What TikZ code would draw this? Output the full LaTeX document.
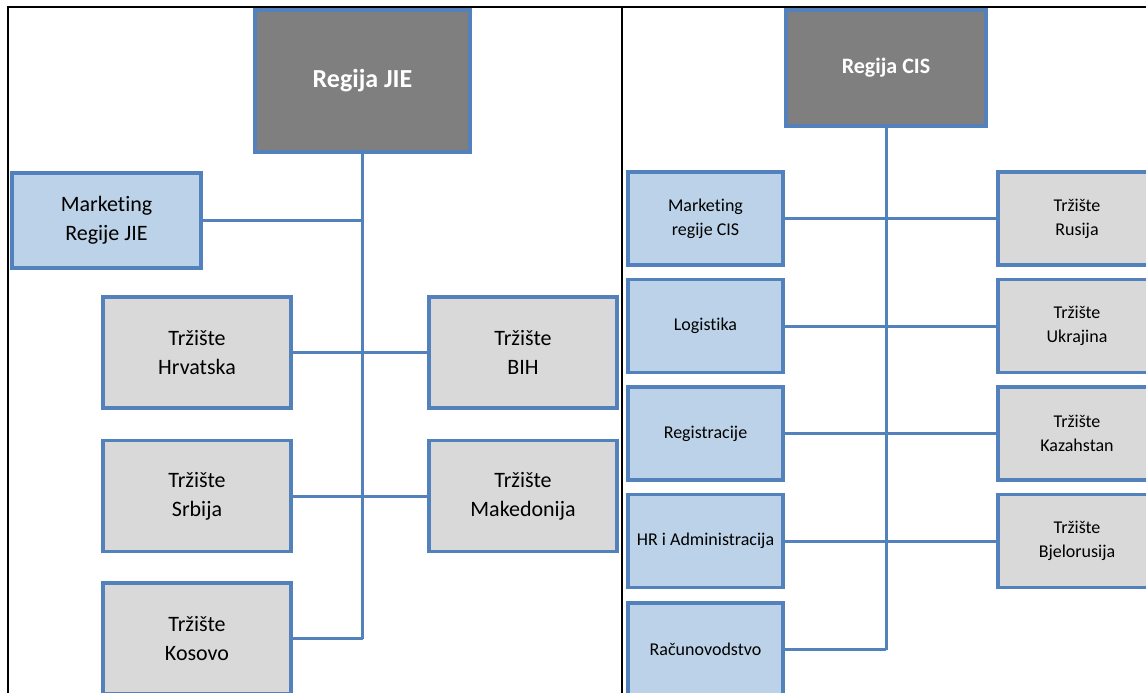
\documentclass[tikz,border=0pt]{standalone}
\usepackage{fontspec}
\setmainfont{Carlito}[Ligatures={NoCommon}]
\definecolor{rub}{HTML}{5281BC}
\definecolor{tamna}{HTML}{7F7F7F}
\definecolor{plava}{HTML}{BCD2E8}
\definecolor{siva}{HTML}{D9D9D9}
\begin{document}
\begin{tikzpicture}[x=1pt,y=-1pt,
		regija/.style={draw=rub,line width=3.2pt,fill=tamna,text=white,font=\fontsize{22}{26}\selectfont\bfseries},
		odjel/.style={draw=rub,line width=3.2pt,fill=plava,align=center},
		trziste/.style={draw=rub,line width=3.2pt,fill=siva,align=center},
		veza/.style={draw=rub,line width=3pt}]
		\useasboundingbox (0,0) rectangle (1146,693);
		\draw[line width=1.8pt] (8,693) -- (8,7) -- (1146,7);
		\draw[line width=1.8pt] (622,7) -- (622,693);
		
		% Regija JIE
		\begin{scope}[every node/.append style={font=\fontsize{22}{29}\selectfont,minimum width=188pt,minimum height=111pt}]
			\node[regija,minimum width=215pt,minimum height=142pt,font=\fontsize{26}{30}\selectfont\bfseries] (jie) at (362.5,81) {Regija JIE};
			\node[odjel,minimum width=189pt,minimum height=95pt] (mktjie) at (106.5,220.5) {Marketing\\Regije JIE};
			\node[trziste] (hrv) at (197,352.5) {Tržište\\Hrvatska};
			\node[trziste] (bih) at (523,352.5) {Tržište\\BIH};
			\node[trziste] (srb) at (197,496) {Tržište\\Srbija};
			\node[trziste] (mak) at (523,496) {Tržište\\Makedonija};
			\node[trziste] (kos) at (197,638.5) {Tržište\\Kosovo};
		\end{scope}
		
		\begin{scope}[veza]
			\path (jie.south) edge (kos.east -| jie.south);
			\path (kos.east -| jie.south) edge (kos.east);
			\path (mktjie.east) edge (mktjie.east -| jie.south);
			\path (hrv.east) edge (bih.west);
			\path (srb.east) edge (mak.west);
		\end{scope}
		
		% Regija CIS
		\begin{scope}[every node/.append style={font=\fontsize{18}{24}\selectfont,minimum height=93pt}]
			\node[regija,minimum width=200pt,minimum height=116pt] (cis) at (886,68) {Regija CIS};
			\node[odjel,minimum width=155pt] (mktcis) at (705.5,218.5) {Marketing\\regije CIS};
			\node[odjel,minimum width=155pt] (log) at (705.5,326) {Logistika};
			\node[odjel,minimum width=155pt] (reg) at (705.5,433.5) {Registracije};
			\node[odjel,minimum width=155pt,inner sep=1pt] (hra) at (705.5,541) {HR i Administracija};
			\node[odjel,minimum width=155pt] (rac) at (705.5,649.5) {Računovodstvo};
			\node[trziste,minimum width=158pt] (rus) at (1077,218.5) {Tržište\\Rusija};
			\node[trziste,minimum width=158pt] (ukr) at (1077,326) {Tržište\\Ukrajina};
			\node[trziste,minimum width=158pt] (kaz) at (1077,433.5) {Tržište\\Kazahstan};
			\node[trziste,minimum width=158pt] (bje) at (1077,541) {Tržište\\Bjelorusija};
		\end{scope}
		
		\begin{scope}[veza]
			\path (cis.south) edge (rac.east -| cis.south);
			\path (rac.east -| cis.south) edge (rac.east);
			\path (mktcis.east) edge (rus.west);
			\path (log.east) edge (ukr.west);
			\path (reg.east) edge (kaz.west);
			\path (hra.east) edge (bje.west);
		\end{scope}
	\end{tikzpicture}
\end{document}
